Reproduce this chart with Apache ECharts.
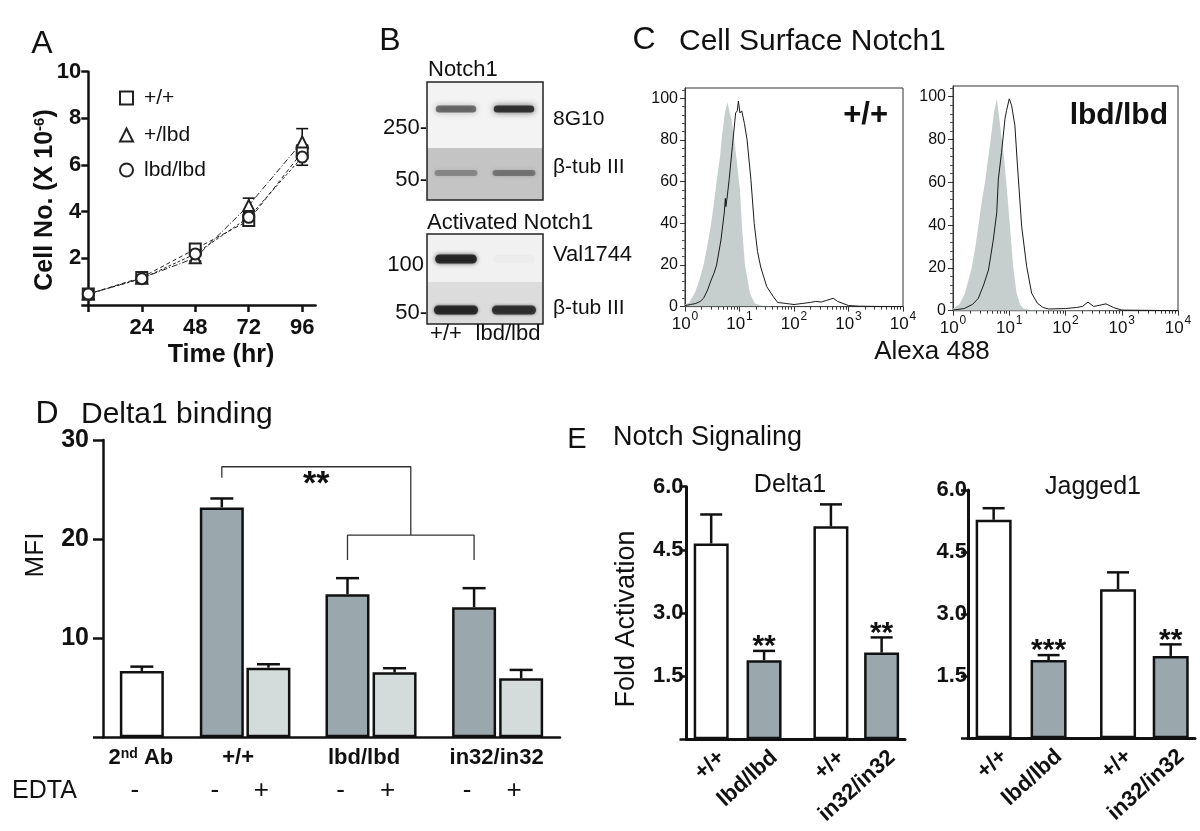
<!DOCTYPE html>
<html><head><meta charset="utf-8"><title>Notch1 figure</title>
<script src="https://cdn.jsdelivr.net/npm/echarts@6.0.0/dist/echarts.min.js"></script>
<style>html,body{margin:0;padding:0;background:#fff;}#chart{width:1200px;height:831px;}</style>
</head><body><div id="chart"></div><script>
// ================= DATA =================
// Panel A: growth curves (cells x 10^-6)
const timeHours = [0, 24, 48, 72, 96];
const growthNames = ['+/+', '+/lbd', 'lbd/lbd'];
const cellsWT  = [0.47, 1.18, 2.40, 3.62, 6.56];
const cellsHet = [0.47, 1.15, 2.02, 4.27, 6.99];
const cellsLbd = [0.47, 1.13, 2.19, 3.76, 6.34];
const errWT  = [0.04, 0.06, 0.12, 0.16, 0.30];
const errHet = [0.04, 0.06, 0.14, 0.31, 0.57];
const errLbd = [0.04, 0.06, 0.10, 0.15, 0.35];
const growthYTicks = [2, 4, 6, 8, 10];
const growthXTicks = [24, 48, 72, 96];

// Panel B: western blot (band intensity per lane, 0..1)
const blotLanes = ['+/+', 'lbd/lbd'];
const band8G10 = [0.62, 0.9];
const bandTubA = [0.35, 0.45];
const bandVal1744 = [0.95, 0.02];
const bandTubB = [0.92, 0.85];
const blotMarkersTop = ['250-', '50-'];
const blotMarkersBottom = ['100', '50-'];
const blotProbesTop = ['8G10', 'β-tub III'];
const blotProbesBottom = ['Val1744', 'β-tub III'];

// Panel C: flow histograms [fluorescence, % of max]
const isoWT = [[1,1],[1.2,2],[1.51,6.5],[1.8,12],[2.19,20],[2.6,30],[3.02,40],[3.4,50],[3.8,60],[4.17,68],[4.4,72],[4.68,80],[5.37,93],[6.03,98],[6.5,94],[7.24,89],[8.0,80],[8.91,70],[9.6,62],[10.2,56],[11.0,40],[12.6,20],[15.5,6.5],[19.1,1.5],[25,0.5],[40,0.2],[10000,0]];
const notchWT = [[1,0.5],[1.26,1],[1.58,1.5],[1.9,2.5],[2.19,4],[2.6,8],[3.02,12.8],[3.4,16],[3.8,20],[4.57,32],[5.25,45],[5.5,52],[5.62,48],[5.9,52],[6.46,61],[7.4,77],[8.5,93],[9.1,94],[9.55,98.7],[10.2,93],[11,94],[12.3,88],[13.8,80],[16.2,61],[18.6,40],[21.4,26.5],[24.5,19],[31.6,9.6],[41.7,4.8],[50,2],[71,1.5],[100,1],[141,1.5],[200,2],[251,2.5],[316,2.2],[398,3],[525,4],[631,2.5],[794,1.5],[1000,0.5],[1585,0.2],[3000,0.1],[10000,0]];
const isoLbd = [[1,1],[1.3,3],[1.63,8.2],[2.15,20],[2.5,30],[2.82,39.5],[3.2,50],[3.71,60],[4.07,68.5],[4.68,80],[5.37,93],[6.0,99],[6.9,86.5],[8.1,71],[8.8,61],[10.3,39.5],[11.8,20],[13.5,8.2],[15.5,3],[17.8,1],[25,0.3],[10000,0]];
const notchLbd = [[1,0.3],[1.58,1],[2.24,3],[2.82,5.8],[3.5,12],[4.27,19],[5.2,33],[6.0,46],[6.4,61.5],[7.3,74],[8.4,89.7],[8.95,93.5],[10,99],[11,96],[12.6,86.5],[13.9,69],[16.6,39.5],[20.4,20.7],[25,8.2],[31.6,3.5],[40,1.5],[50,0.8],[100,1],[158,1.5],[200,2],[251,4],[316,2],[398,2.5],[525,3.2],[708,1.5],[1000,0.3],[10000,0]];
const flowDecades = [1, 10, 100, 1000, 10000];
const flowYTicks = [0, 20, 40, 60, 80, 100];

// Panel D: Delta1 binding (MFI)
const bindingGroups = ['2nd Ab', '+/+', 'lbd/lbd', 'in32/in32'];
const bindingGroupOf = [0, 1, 1, 2, 2, 3, 3];
const bindingEDTA = ['-', '-', '+', '-', '+', '-', '+'];
const bindingKind = ['ctrl', 'minus', 'plus', 'minus', 'plus', 'minus', 'plus'];
const bindingPos = [0.85, 2.6, 3.62, 5.35, 6.38, 8.12, 9.15];
const bindingMFI = [6.7, 23.2, 7.03, 14.44, 6.56, 13.13, 5.96];
const bindingSEM = [0.43, 0.9, 0.34, 1.62, 0.41, 1.92, 0.84];
const bindingYTicks = [10, 20, 30];
const bracketLevels = [26.2, 27.3, 20.4, 17.9];
const bindingStars = '**';

// Panel E: Notch signaling (fold activation)
const signalGenotypes = ['+/+', 'lbd/lbd', '+/+', 'in32/in32'];
const signalKind = ['wt', 'mut', 'wt', 'mut'];
const signalPos = [1.13, 3.55, 6.61, 8.93];
const delta1Fold = [4.65, 1.88, 5.06, 2.06];
const delta1Err = [0.69, 0.22, 0.52, 0.36];
const delta1Stars = ['', '**', '', '**'];
const jagged1Fold = [5.28, 1.89, 3.60, 1.99];
const jagged1Err = [0.28, 0.12, 0.41, 0.28];
const jagged1Stars = ['', '***', '', '**'];
const signalYTicks = [1.5, 3.0, 4.5, 6.0];

// ================= STYLE / LAYOUT =================
const FONT = "'Liberation Sans', Arial, Helvetica, sans-serif";
const INK = '#111';
const DARK = '#9aa8ae', LIGHT = '#d4dcdb', ISO = '#c6cfcd';
const bindingColors = {ctrl: '#ffffff', minus: DARK, plus: LIGHT};
const signalColors = {wt: '#ffffff', mut: DARK};
const growthSymbols = ['emptyRect', 'emptyTriangle', 'emptyCircle'];
const growthDash = [[4, 3], [6, 2, 1, 2], [3, 2]];

const chart = echarts.init(document.getElementById('chart'), null, {renderer: 'canvas'});

const axisStyle = (w) => ({lineStyle: {color: INK, width: w}});
const lblStyle = (size, bold, extra) => Object.assign({color: INK, fontSize: size, fontFamily: FONT, fontWeight: bold ? 'bold' : 'normal'}, extra || {});

// ----- grids -----
const grids = [
  {left: 88.3, top: 71.7, width: 227.3, height: 233.3},   // 0 A
  {left: 427, top: 82, width: 116, height: 66},           // 1 B row1
  {left: 427, top: 148, width: 116, height: 52},          // 2 B row2
  {left: 427, top: 234, width: 116, height: 48},          // 3 B row3
  {left: 427, top: 282, width: 116, height: 42},          // 4 B row4
  {left: 685, top: 88, width: 218, height: 218.6, show: true, borderColor: '#333', borderWidth: 1},   // 5 C left
  {left: 953, top: 86, width: 225, height: 224.7, show: true, borderColor: '#333', borderWidth: 1},   // 6 C right
  {left: 103, top: 440, width: 457, height: 297.3},       // 7 D
  {left: 686.5, top: 486.7, width: 218.5, height: 252.6}, // 8 E left
  {left: 968, top: 490, width: 227, height: 248.3}        // 9 E right
].map(g => Object.assign({containLabel: false}, g));

// ----- axes -----
const logLabel = {
  formatter: v => '{b|10}{s|' + Math.round(Math.log10(v)) + '}',
  margin: 4,
  rich: {b: {fontSize: 17, fontFamily: FONT, color: INK, verticalAlign: 'bottom'},
         s: {fontSize: 12, fontFamily: FONT, color: INK, verticalAlign: 'top', padding: [0, 0, 10, 1]}}
};
const minorLog = [];
for (let d = 1; d < 10000; d *= 10) for (let k = 2; k <= 9; k++) minorLog.push(k * d);

const xAxes = [
  {gridIndex: 0, type: 'value', min: 0, max: 102, interval: 24, axisLine: axisStyle(2.5),
   axisTick: {customValues: [0].concat(growthXTicks), length: 7, lineStyle: {color: INK, width: 2.5}},
   axisLabel: Object.assign(lblStyle(22, true), {customValues: growthXTicks, margin: 12}), splitLine: {show: false}},
];
for (let i = 1; i <= 4; i++) xAxes.push({gridIndex: i, type: 'category', data: blotLanes, show: false});
[5, 6].forEach(gi => xAxes.push({gridIndex: gi, type: 'log', logBase: 10, min: 1, max: 10000, position: 'bottom',
  axisLine: {lineStyle: {color: '#333', width: 1}},
  axisTick: {customValues: flowDecades, length: 5, lineStyle: {color: '#333'}},
  axisLabel: Object.assign({customValues: flowDecades}, logLabel), splitLine: {show: false}}));
[5, 6].forEach(gi => xAxes.push({gridIndex: gi, type: 'log', logBase: 10, min: 1, max: 10000, position: 'bottom',
  axisLine: {show: false}, axisTick: {customValues: minorLog, length: 3, lineStyle: {color: '#333'}},
  axisLabel: {show: false}, splitLine: {show: false}}));
xAxes.push({gridIndex: 7, type: 'value', min: 0, max: 10, axisLine: axisStyle(2.5), axisTick: {show: false}, axisLabel: {show: false}, splitLine: {show: false}});
[8, 9].forEach(gi => xAxes.push({gridIndex: gi, type: 'value', min: 0, max: 10, axisLine: axisStyle(3), axisTick: {show: false}, axisLabel: {show: false}, splitLine: {show: false}}));

const yAxes = [
  {gridIndex: 0, type: 'value', min: 0, max: 10, interval: 2, axisLine: {show: true, lineStyle: {color: INK, width: 2.5}},
   axisTick: {show: true, customValues: [0].concat(growthYTicks), length: 7, lineStyle: {color: INK, width: 2.5}},
   axisLabel: Object.assign(lblStyle(22, true), {customValues: growthYTicks, margin: 7}), splitLine: {show: false}},
];
for (let i = 1; i <= 4; i++) yAxes.push({gridIndex: i, type: 'value', min: 0, max: 1, show: false});
[5, 6].forEach(gi => yAxes.push({gridIndex: gi, type: 'value', min: 0, max: 105, interval: 20,
  axisLine: {show: true, lineStyle: {color: '#333', width: 1}},
  axisTick: {show: true, customValues: flowYTicks, length: 5, lineStyle: {color: '#333'}},
  minorTick: {show: true, splitNumber: 5, length: 3, lineStyle: {color: '#555'}},
  axisLabel: Object.assign(lblStyle(16, false), {customValues: flowYTicks, margin: 7}), splitLine: {show: false}, minorSplitLine: {show: false}}));
yAxes.push({gridIndex: 7, type: 'value', min: 0, max: 30, interval: 10, axisLine: {show: true, lineStyle: {color: INK, width: 2.5}},
  axisTick: {show: true, customValues: [0].concat(bindingYTicks), length: 10, lineStyle: {color: INK, width: 2.5}},
  axisLabel: Object.assign(lblStyle(25, true), {customValues: bindingYTicks, margin: 14}), splitLine: {show: false}});
[8, 9].forEach((gi, k) => yAxes.push({gridIndex: gi, type: 'value', min: 0, max: 6, interval: 1.5,
  axisLine: {show: true, lineStyle: {color: INK, width: 3}},
  axisTick: {show: true, customValues: [0].concat(signalYTicks), length: 7, lineStyle: {color: INK, width: 2.5}},
  axisLabel: Object.assign(lblStyle(22, true), {customValues: signalYTicks, margin: k === 0 ? 3 : 1, formatter: v => Number(v).toFixed(1)}),
  splitLine: {show: false}}));

// ----- helpers -----
function errRender(capHalf, both, width) {
  return function (params, api) {
    const x = api.value(0), y = api.value(1), e = api.value(2);
    const top = api.coord([x, y + e]);
    const bot = api.coord([x, both ? y - e : y]);
    const st = {stroke: INK, lineWidth: width};
    const ch = [
      {type: 'line', shape: {x1: top[0], y1: bot[1], x2: top[0], y2: top[1]}, style: st},
      {type: 'line', shape: {x1: top[0] - capHalf, y1: top[1], x2: top[0] + capHalf, y2: top[1]}, style: st}
    ];
    if (both) ch.push({type: 'line', shape: {x1: top[0] - capHalf, y1: bot[1], x2: top[0] + capHalf, y2: bot[1]}, style: st});
    return {type: 'group', children: ch};
  };
}
const blotRowStyles = [
  {bg: '#f3f3f3', h: 7, dy: -6, w: 0.7, blur: 6},
  {bg: '#c4c4c4', h: 6, dy: -1, w: 0.74, blur: 4},
  {bg: '#f1f1f1', h: 9, dy: 1, w: 0.72, blur: 4},
  {bg: '#dcdcdc', h: 9, dy: 7, w: 0.76, blur: 3}
];
function blotRender(rs) {
  return function (params, api) {
    const lane = api.value(0), inten = api.value(1);
    const c = api.coord([lane, 0.5]);
    const cs = params.coordSys;
    const cw = api.size([1, 0])[0];
    const bw = cw * rs.w, bh = rs.h;
    const col = 'rgba(25,25,25,' + (inten * 0.9).toFixed(3) + ')';
    return {type: 'group', children: [
      {type: 'rect', shape: {x: c[0] - cw / 2, y: cs.y, width: cw, height: cs.height}, style: {fill: rs.bg}},
      {type: 'rect', shape: {x: c[0] - bw / 2, y: cs.y + cs.height / 2 - bh / 2 + rs.dy, width: bw, height: bh, r: bh / 2},
       style: {fill: col, shadowBlur: rs.blur, shadowColor: col}}
    ]};
  };
}

// ----- series -----
const series = [];
// A
const growthSets = [cellsWT, cellsHet, cellsLbd];
const growthErrs = [errWT, errHet, errLbd];
growthSets.forEach((vals, k) => {
  series.push({name: growthNames[k], type: 'line', xAxisIndex: 0, yAxisIndex: 0, z: 5,
    data: timeHours.map((t, i) => [t, vals[i]]),
    symbol: growthSymbols[k], symbolSize: 11,
    itemStyle: {color: '#222', borderWidth: 1.2},
    lineStyle: {color: '#222', width: 1, type: growthDash[k]}});
  series.push({type: 'custom', xAxisIndex: 0, yAxisIndex: 0, z: 4, silent: true,
    renderItem: errRender(6, true, 1.6), data: timeHours.map((t, i) => [t, vals[i], growthErrs[k][i]])});
});
// B
[band8G10, bandTubA, bandVal1744, bandTubB].forEach((vals, r) => {
  series.push({type: 'custom', xAxisIndex: r + 1, yAxisIndex: r + 1, silent: true,
    renderItem: blotRender(blotRowStyles[r]), data: vals.map((v, i) => [i, v])});
});
// C
[[isoWT, notchWT, 5], [isoLbd, notchLbd, 6]].forEach(([iso, stain, ax]) => {
  series.push({type: 'line', xAxisIndex: ax, yAxisIndex: ax, data: iso, showSymbol: false, symbol: 'none', z: 2,
    lineStyle: {width: 0, color: ISO}, areaStyle: {color: ISO, opacity: 1}});
  series.push({type: 'line', xAxisIndex: ax, yAxisIndex: ax, data: stain, showSymbol: false, symbol: 'none', z: 3,
    lineStyle: {width: 1, color: '#1a1a1a'}});
});
// D
series.push({type: 'bar', xAxisIndex: 9, yAxisIndex: 7, barWidth: 44, z: 3,
  data: bindingPos.map((x, i) => ({value: [x, bindingMFI[i]], itemStyle: {color: bindingColors[bindingKind[i]]}})),
  itemStyle: {borderColor: INK, borderWidth: 2.5}});
series.push({type: 'custom', xAxisIndex: 9, yAxisIndex: 7, z: 4, silent: true, renderItem: errRender(11.5, false, 2.5),
  data: bindingPos.map((x, i) => [x, bindingMFI[i], bindingSEM[i]])});
const bracketMid = (bindingPos[3] + bindingPos[5]) / 2;
series.push({type: 'line', xAxisIndex: 9, yAxisIndex: 7, symbol: 'none', lineStyle: {color: '#333', width: 1.3}, z: 4,
  data: [[bindingPos[1], bracketLevels[0]], [bindingPos[1], bracketLevels[1]], [bracketMid, bracketLevels[1]], [bracketMid, bracketLevels[2]]]});
series.push({type: 'line', xAxisIndex: 9, yAxisIndex: 7, symbol: 'none', lineStyle: {color: '#333', width: 1.3}, z: 4,
  data: [[bindingPos[3], bracketLevels[3]], [bindingPos[3], bracketLevels[2]], [bindingPos[5], bracketLevels[2]], [bindingPos[5], bracketLevels[3]]]});
// E
[[delta1Fold, delta1Err, 10, 8, 35], [jagged1Fold, jagged1Err, 11, 9, 36]].forEach(([m, e, xa, ya, bw]) => {
  series.push({type: 'bar', xAxisIndex: xa, yAxisIndex: ya, barWidth: bw, z: 3,
    data: signalPos.map((x, i) => ({value: [x, m[i]], itemStyle: {color: signalColors[signalKind[i]]}})),
    itemStyle: {borderColor: INK, borderWidth: 2.5}});
  series.push({type: 'custom', xAxisIndex: xa, yAxisIndex: ya, z: 4, silent: true, renderItem: errRender(11, false, 2.5),
    data: signalPos.map((x, i) => [x, m[i], e[i]])});
});

// ----- legends (panel A) -----
const legendCenters = [93, 130, 165];
const legends = growthNames.map((n, k) => ({
  data: [{name: n, icon: growthSymbols[k]}], left: 114, top: legendCenters[k] - 10.5, itemWidth: 13, itemHeight: 13,
  selectedMode: false,
  textStyle: {fontSize: 21, fontFamily: FONT, color: INK, padding: [0, 0, 0, 6], lineHeight: 21}
}));

chart.setOption({
  animation: false, backgroundColor: '#fff',
  grid: grids, xAxis: xAxes, yAxis: yAxes, legend: legends, series: series
});

// ----- text annotations -----
const G = [];
function T(x, y, text, size, o) {
  o = o || {};
  const st = {text: text, fill: INK, fontSize: size, fontFamily: FONT, fontWeight: o.bold ? 'bold' : 'normal',
    align: o.align || 'left', verticalAlign: o.va || 'middle'};
  if (o.rich) st.rich = o.rich;
  G.push({type: 'text', x: x, y: y, rotation: o.rot || 0, z: 100, silent: true, style: st});
}
// panel letters & titles
T(42, 44, 'A', 32, {align: 'center'});
T(390, 41, 'B', 32, {align: 'center'});
T(644, 40, 'C', 32, {align: 'center'});
T(679, 42, 'Cell Surface Notch1', 30);
T(47, 414, 'D', 32, {align: 'center'});
T(81, 415, 'Delta1 binding', 30);
T(577, 440, 'E', 29, {align: 'center'});
T(613, 438, 'Notch Signaling', 27);
// A axis names
T(45, 200, 'Cell No. (X 10{sup|-6})', 25, {bold: true, align: 'center', rot: Math.PI / 2,
  rich: {sup: {fontSize: 15, fontWeight: 'bold', fontFamily: FONT, fill: INK, verticalAlign: 'top', padding: [0, 0, 10, 0]}}});
T(221, 355, 'Time (hr)', 25, {bold: true, align: 'center'});
// B labels
T(428, 70, 'Notch1', 22);
T(427, 128, blotMarkersTop[0], 22, {align: 'right'});
T(427, 180, blotMarkersTop[1], 22, {align: 'right'});
T(553, 119, blotProbesTop[0], 21);
T(553, 167, blotProbesTop[1], 21);
T(427, 223, 'Activated Notch1', 22);
T(424, 265, blotMarkersBottom[0], 22, {align: 'right'});
T(427, 313, blotMarkersBottom[1], 22, {align: 'right'});
T(553, 255, blotProbesBottom[0], 22);
T(553, 308, blotProbesBottom[1], 21);
G.push({type: 'rect', shape: {x: 427, y: 82, width: 116, height: 118}, style: {fill: 'none', stroke: '#222', lineWidth: 1.5}, z: 90, silent: true});
G.push({type: 'rect', shape: {x: 427, y: 234, width: 116, height: 90}, style: {fill: 'none', stroke: '#222', lineWidth: 1.5}, z: 90, silent: true});
// lane labels from blot axis
blotLanes.forEach((lane, i) => {
  const px = chart.convertToPixel({xAxisIndex: 4}, i);
  T(px - 10 + i * 4, 334, lane, 22, {align: 'center'});
});
// C labels
T(888, 115.5, '+/+', 31, {bold: true, align: 'right'});
T(1168, 116, 'lbd/lbd', 30, {bold: true, align: 'right'});
T(932, 352, 'Alexa 488', 26, {align: 'center'});
// D labels
T(36, 555, 'MFI', 26, {align: 'center', rot: Math.PI / 2});
const bx = bindingPos.map(p => chart.convertToPixel({xAxisIndex: 9}, p));
const groupShift = [-1, -7, -7, -1];
bindingGroups.forEach((name, g) => {
  const mem = bx.filter((_, i) => bindingGroupOf[i] === g);
  const cx = mem.reduce((a, b) => a + b, 0) / mem.length + groupShift[g];
  if (g === 0) {
    T(cx, 758, '2{sup|nd} Ab', 22, {bold: true, align: 'center',
      rich: {sup: {fontSize: 14, fontWeight: 'bold', fontFamily: FONT, fill: INK, verticalAlign: 'top', padding: [0, 0, 8, 0]}}});
  } else {
    T(cx, 758, name, 22, {bold: true, align: 'center'});
  }
});
T(12, 791, 'EDTA', 25);
bindingEDTA.forEach((s, i) => T(bx[i] - 7, 791, s, 26, {align: 'center'}));
// D significance stars, positioned through the axes
const starX = chart.convertToPixel({xAxisIndex: 9}, (bindingPos[1] + bracketMid) / 2);
const starY = chart.convertToPixel({yAxisIndex: 7}, bracketLevels[0]);
T(starX, starY + 7, bindingStars, 34, {bold: true, align: 'center'});
// E labels
T(627, 619, 'Fold Activation', 27, {align: 'center', rot: Math.PI / 2});
T(790, 485, 'Delta1', 25, {align: 'center'});
T(1093, 487, 'Jagged1', 25, {align: 'center'});
[[10, 8, delta1Fold, delta1Err, delta1Stars], [11, 9, jagged1Fold, jagged1Err, jagged1Stars]].forEach(([xa, ya, m, e, s]) => {
  const y0 = chart.convertToPixel({yAxisIndex: ya}, 0);
  signalGenotypes.forEach((name, i) => {
    const px = chart.convertToPixel({xAxisIndex: xa}, signalPos[i]);
    T(px + 3, y0 + 7, name, 22, {bold: true, align: 'right', va: 'top', rot: 42 * Math.PI / 180});
    if (s[i]) {
      const py = chart.convertToPixel({yAxisIndex: ya}, m[i] + e[i]);
      T(px, py - 4, s[i], 30, {bold: true, align: 'center'});
    }
  });
});
chart.setOption({graphic: G});
</script></body></html>
